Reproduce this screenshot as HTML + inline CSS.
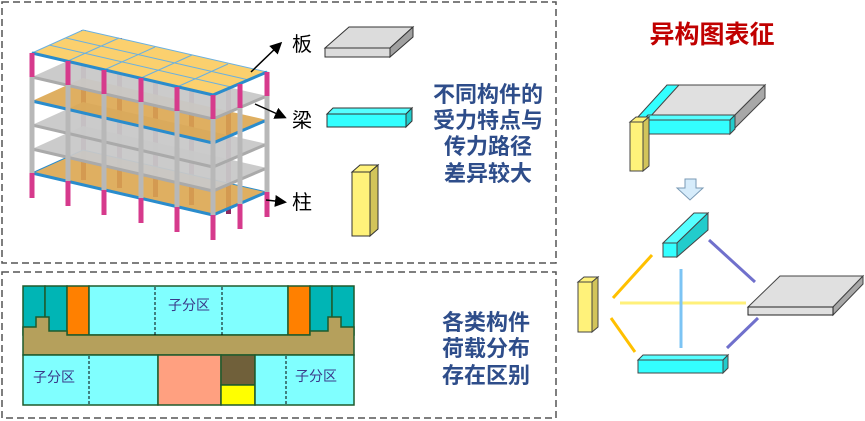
<!DOCTYPE html>
<html><head><meta charset="utf-8"><style>
html,body{margin:0;padding:0;background:#fff;}
svg{display:block;}
.cj{font-family:"Liberation Sans","Noto Sans CJK SC",sans-serif;}
</style></head><body>
<svg width="865" height="421" viewBox="0 0 865 421" xmlns="http://www.w3.org/2000/svg">
<defs>
<marker id="ah" markerWidth="8" markerHeight="8" refX="6" refY="4" orient="auto"><path d="M0,0 L8,4 L0,8 z" fill="#000"/></marker>
<g id="col"><rect x="-2.5" y="0" width="5" height="145" fill="#b8b8b8"/><rect x="-2.5" y="0" width="5" height="24" fill="#d63a8c"/><rect x="-2.5" y="120" width="5" height="25" fill="#d63a8c"/></g>
</defs>
<rect x="2" y="2" width="554" height="261" fill="none" stroke="#555" stroke-width="1.5" stroke-dasharray="7,4"/>
<rect x="2" y="272" width="554" height="146" fill="none" stroke="#555" stroke-width="1.5" stroke-dasharray="7,4"/>

<g fill="#8a2a60">
<rect x="81" y="30" width="5" height="150"/><rect x="117" y="38" width="5" height="150"/><rect x="153" y="47" width="5" height="150"/><rect x="189" y="55" width="5" height="150"/><rect x="226" y="64" width="5" height="150"/>
</g>
<polygon points="32,173 83,150 267,192 213,215" fill="#dca650" fill-opacity="0.9" stroke="#2a8ccc" stroke-width="1"/>
<polyline points="32,173 213,215 267,192" fill="none" stroke="#2a8ccc" stroke-width="3"/>
<polygon points="32,149 83,126 267,168 213,191" fill="#c8c8c8" fill-opacity="0.95"/>
<polyline points="32,149 213,191 267,168" fill="none" stroke="#aaa" stroke-width="3"/>
<polygon points="32,125 83,102 267,144 213,167" fill="#c8c8c8" fill-opacity="0.95"/>
<polyline points="32,125 213,167 267,144" fill="none" stroke="#aaa" stroke-width="3"/>
<polygon points="32,101 83,78 267,120 213,143" fill="#dca650" fill-opacity="0.9"/>
<polyline points="32,101 213,143 267,120" fill="none" stroke="#2a8ccc" stroke-width="3"/>
<polygon points="32,77 83,54 267,96 213,119" fill="#c8c8c8" fill-opacity="0.95"/>
<polyline points="32,77 213,119 267,96" fill="none" stroke="#aaa" stroke-width="3"/>
<polygon points="32,53 83,30 267,72 213,95" fill="#fbd06e" stroke="#6ab0e0" stroke-width="1"/>
<g stroke="#6ab0e0" stroke-width="1">
<line x1="49" y1="45" x2="231" y2="87"/><line x1="66" y1="38" x2="249" y2="80"/>
<line x1="68" y1="61" x2="119" y2="38"/><line x1="104" y1="70" x2="155" y2="47"/><line x1="141" y1="78" x2="192" y2="55"/><line x1="177" y1="87" x2="228" y2="64"/>
</g>
<polyline points="32,53 213,95 267,72" fill="none" stroke="#2a8ccc" stroke-width="3"/>
<use href="#col" x="267" y="72"/><use href="#col" x="240" y="84"/>
<use href="#col" x="32" y="53"/><use href="#col" x="68" y="61"/><use href="#col" x="104" y="70"/><use href="#col" x="141" y="78"/><use href="#col" x="177" y="87"/><use href="#col" x="213" y="95"/>

<line x1="251" y1="72" x2="280" y2="44" stroke="#000" stroke-width="1.5" marker-end="url(#ah)"/>
<line x1="255" y1="104" x2="284" y2="117" stroke="#000" stroke-width="1.5" marker-end="url(#ah)"/>
<line x1="266" y1="200" x2="284" y2="202" stroke="#000" stroke-width="1.5" marker-end="url(#ah)"/>
<g class="cj" font-size="20" fill="#000">
<text x="292" y="51">板</text><text x="292" y="127">梁</text><text x="292" y="209">柱</text>
</g>

<polygon points="325,48 349,27 413,27 390,48" fill="#dcdcdc" stroke="#333" stroke-width="1"/>
<polygon points="390,48 413,27 413,37 390,57" fill="#a0a0a0" stroke="#333" stroke-width="1"/>
<rect x="325" y="48" width="65" height="9" fill="#dcdcdc" stroke="#333" stroke-width="1"/>

<polygon points="327,114 333,108 412,108 406,114" fill="#5ff" stroke="#333"/>
<polygon points="406,114 412,108 412,121 406,127" fill="#2cc" stroke="#333"/>
<rect x="327" y="114" width="79" height="13" fill="#3ff" stroke="#333"/>

<polygon points="352,172 360,165 378,165 370,172" fill="#fff27a" stroke="#333"/>
<polygon points="370,172 378,165 378,229 370,236" fill="#d2c45a" stroke="#333"/>
<rect x="352" y="172" width="18" height="64" fill="#fff27a" stroke="#333"/>

<g class="cj" font-size="22" font-weight="bold" fill="#2e4d8a" text-anchor="middle">
<text x="488" y="102">不同构件的</text><text x="488" y="128">受力特点与</text><text x="488" y="154">传力路径</text><text x="488" y="181">差异较大</text>
<text x="486" y="330">各类构件</text><text x="486" y="356">荷载分布</text><text x="486" y="383">存在区别</text>
</g>

<g stroke="#1f5a2c" stroke-width="1.5">
<rect x="23" y="286" width="22" height="49" fill="#00b5b5"/>
<rect x="45" y="286" width="22" height="49" fill="#00b5b5"/>
<rect x="67" y="286" width="22" height="49" fill="#ff8000"/>
<rect x="89" y="286" width="199" height="49" fill="#80ffff"/>
<rect x="288" y="286" width="22" height="49" fill="#ff8000"/>
<rect x="310" y="286" width="22" height="49" fill="#00b5b5"/>
<rect x="332" y="286" width="22" height="49" fill="#00b5b5"/>
<polygon points="23,327 36,327 36,317 49,317 49,331 67,331 67,335 310,335 310,331 328,331 328,317 341,317 341,327 354,327 354,355 23,355" fill="#b5a05c"/>
<rect x="23" y="355" width="135" height="50" fill="#80ffff"/>
<rect x="158" y="355" width="63" height="50" fill="#ffa080"/>
<rect x="221" y="355" width="34" height="30" fill="#70603a"/>
<rect x="221" y="385" width="34" height="20" fill="#ffff00"/>
<rect x="255" y="355" width="99" height="50" fill="#80ffff"/>
</g>
<g stroke="#000" stroke-width="1" stroke-dasharray="3,2">
<line x1="155" y1="287" x2="155" y2="335"/><line x1="222" y1="287" x2="222" y2="335"/>
<line x1="89" y1="356" x2="89" y2="406"/><line x1="286" y1="356" x2="286" y2="405"/>
</g>
<g class="cj" font-size="14" fill="#3a3a8a" text-anchor="middle">
<text x="189" y="310">子分区</text><text x="54" y="382">子分区</text><text x="316" y="381">子分区</text>
</g>

<text class="cj" x="712" y="43" font-size="25" font-weight="bold" fill="#c00000" text-anchor="middle">异构图表征</text>

<polygon points="651,115 667,85 765,85 735,115" fill="#e0e0e0" stroke="#444"/>
<polygon points="735,115 765,85 765,98 735,128" fill="#a8a8a8" stroke="#444"/>
<polygon points="637,118 667,85 679,85 649,118" fill="#3ff" stroke="#444"/>
<polygon points="643,120 648,115 735,115 730,120" fill="#5ff" stroke="#444"/>
<polygon points="730,120 735,115 735,129 730,134" fill="#2cc" stroke="#444"/>
<rect x="643" y="120" width="87" height="14" fill="#3ff" stroke="#444"/>
<polygon points="630,122 636,117 649,117 643,122" fill="#fff27a" stroke="#444"/>
<polygon points="643,122 649,117 649,166 643,171" fill="#d2c45a" stroke="#444"/>
<rect x="630" y="122" width="13" height="49" fill="#fff27a" stroke="#444"/>

<polygon points="685,179 696,179 696,188 703,188 690,200 677,188 685,188" fill="#d6ecfb" stroke="#7a9ab5"/>

<g stroke-width="3">
<line x1="613" y1="298" x2="652" y2="255" stroke="#ffc000"/>
<line x1="611" y1="318" x2="635" y2="352" stroke="#ffc000"/>
<line x1="620" y1="303" x2="746" y2="303" stroke="#fff07a"/>
<line x1="681" y1="269" x2="681" y2="348" stroke="#7cc4f4"/>
<line x1="709" y1="240" x2="755" y2="282" stroke="#7070cc"/>
<line x1="727" y1="348" x2="758" y2="318" stroke="#7070cc"/>
</g>
<polygon points="663,243 694,213 708,213 677,243" fill="#5ff" stroke="#444"/>
<polygon points="677,243 708,213 708,230 677,257" fill="#2cc" stroke="#444"/>
<rect x="663" y="243" width="14" height="14" fill="#3ff" stroke="#444"/>

<polygon points="578,282 584,277 598,277 592,282" fill="#fff27a" stroke="#444"/>
<polygon points="592,282 598,277 598,327 592,332" fill="#d2c45a" stroke="#444"/>
<rect x="578" y="282" width="14" height="50" fill="#fff27a" stroke="#444"/>

<polygon points="748,307 780,276 863,276 833,307" fill="#e0e0e0" stroke="#444"/>
<polygon points="833,307 863,276 863,284 833,315" fill="#a8a8a8" stroke="#444"/>
<rect x="748" y="307" width="85" height="8" fill="#e0e0e0" stroke="#222"/>

<polygon points="638,360 643,355 728,355 723,360" fill="#5ff" stroke="#444"/>
<polygon points="723,360 728,355 728,368 723,373" fill="#2cc" stroke="#444"/>
<rect x="638" y="360" width="85" height="13" fill="#3ff" stroke="#444"/>
</svg>
</body></html>
